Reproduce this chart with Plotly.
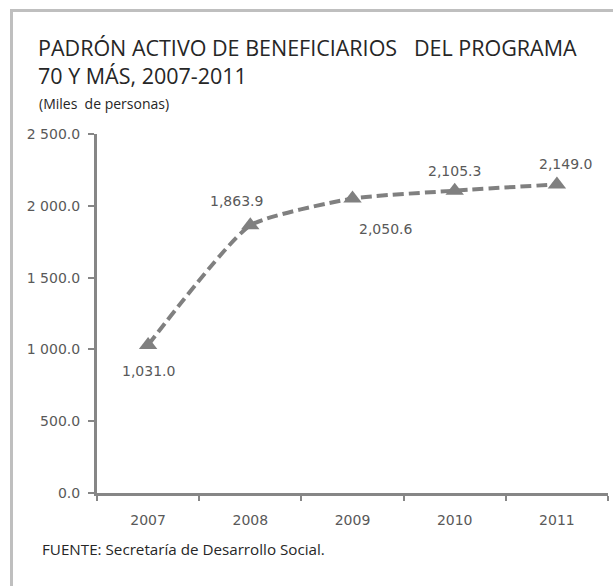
import plotly.graph_objects as go

years = ["2007", "2008", "2009", "2010", "2011"]
values = [1031.0, 1863.9, 2050.6, 2105.3, 2149.0]
y_tickvals = [0, 500, 1000, 1500, 2000, 2500]
y_ticktext = ["0.0", "500.0", "1 000.0", "1 500.0", "2 000.0", "2 500.0"]
label_text = [f"{v:,.1f}" for v in values]
# label offsets (px) per point
label_dx = [0, -14, 33, 0, 9]
label_dy = [-26, 24, -30, 20, 20]

W, H = 613, 586
L, R, T, B = 97, 5, 134, 93
pw, ph = W - L - R, H - T - B

def px(x):
    return (x - L) / pw

def py(y):
    return (H - B - y) / ph

grey = "#808080"
axis_grey = "#868686"
txt = "#595959"

fig = go.Figure()
fig.add_trace(go.Scatter(
    x=years, y=values, mode="lines+markers",
    line=dict(color=grey, width=4, dash="11px,5px", shape="spline", smoothing=0.5),
    marker=dict(symbol="triangle-up", size=16, color=grey),
    hoverinfo="skip", showlegend=False,
))

annotations = []
for i, (v, t, dx, dy) in enumerate(zip(values, label_text, label_dx, label_dy)):
    annotations.append(dict(x=i, y=v, xref="x", yref="y", text=t, showarrow=False,
                            xshift=dx, yshift=dy,
                            font=dict(family="DejaVu Sans", size=14, color=txt)))

title_font = dict(family="Open Sans", size=21.5, color="#262626")
annotations += [
    dict(xref="paper", yref="paper", x=px(36), y=py(62), xanchor="left", yanchor="middle",
         align="left",
         text="PADRÓN ACTIVO DE BENEFICIARIOS&nbsp;&nbsp; DEL PROGRAMA<br>70 Y MÁS, 2007-2011",
         showarrow=False, font=title_font),
    dict(xref="paper", yref="paper", x=px(37), y=py(104), xanchor="left", yanchor="middle",
         text="(Miles&nbsp; de personas)", showarrow=False,
         font=dict(family="Open Sans", size=14, color="#262626")),
    dict(xref="paper", yref="paper", x=px(40), y=py(549), xanchor="left", yanchor="middle",
         text="FUENTE: Secretaría de Desarrollo Social.", showarrow=False,
         font=dict(family="Open Sans", size=15.2, color="#262626")),
]

fig.update_layout(
    width=W, height=H,
    margin=dict(l=L, r=R, t=T, b=B, pad=0),
    paper_bgcolor="white", plot_bgcolor="white",
    annotations=annotations,
    shapes=[dict(type="rect", xref="paper", yref="paper",
                 x0=px(11.5), y0=py(700), x1=px(700), y1=py(10.5),
                 line=dict(color="#BFBFBF", width=3), layer="below")],
    xaxis=dict(type="category", tickson="boundaries", showgrid=False,
               showline=True, linecolor=axis_grey, linewidth=3,
               ticks="outside", ticklen=5, tickwidth=2, tickcolor=axis_grey,
               ticklabelstandoff=12,
               tickfont=dict(family="DejaVu Sans", size=14, color=txt),
               range=[-0.5, 4.5], zeroline=False),
    yaxis=dict(range=[0, 2500], tickvals=y_tickvals, ticktext=y_ticktext,
               showgrid=False, showline=True, linecolor=axis_grey, linewidth=3,
               ticks="outside", ticklen=6, tickwidth=2, tickcolor=axis_grey,
               ticklabelstandoff=5,
               tickfont=dict(family="DejaVu Sans", size=14, color=txt),
               zeroline=False),
)

fig.write_html("out.html", config={"displayModeBar": False},
               post_script="document.body.style.margin='0';document.body.style.overflow='hidden';")
